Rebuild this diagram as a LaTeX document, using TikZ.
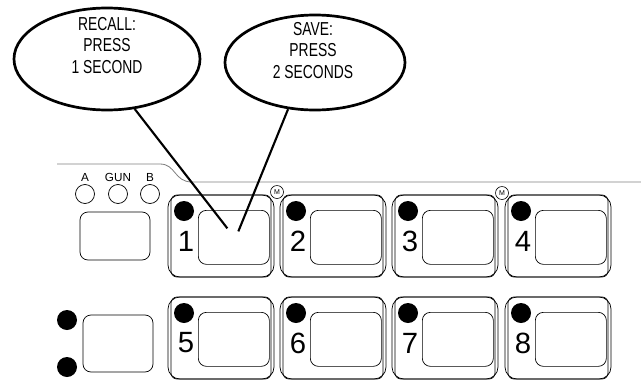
\documentclass[tikz,border=0pt]{standalone}
\usepackage{fontspec}
\setmainfont{Liberation Sans}
\newfontfamily\condfont[FakeStretch=0.74]{Liberation Sans}
\usetikzlibrary{shapes.geometric, calc}

\begin{document}
\begin{tikzpicture}[x=0.03cm, y=-0.03cm,
  callout/.style={draw, ellipse, line width=2.3pt, inner sep=0pt},
  calltext/.style={font=\condfont\fontsize{16}{18.6}\selectfont, align=center},
  pointer/.style={line width=1.8pt},
  bezel/.style={draw, line width=0.6pt, rounded corners=0.36cm},
  keycap/.style={draw, line width=0.6pt, rounded corners=0.24cm, inner sep=0pt},
  led/.style={circle, fill=black, minimum size=0.6cm, inner sep=0pt},
  jack/.style={circle, draw, line width=0.6pt, minimum size=0.57cm, inner sep=0pt},
  mbadge/.style={circle, draw, line width=0.5pt, minimum size=0.39cm, inner sep=0pt,
                 font=\fontsize{6}{6}\selectfont},
  digit/.style={font=\fontsize{25}{25}\selectfont, inner sep=0pt}]

  \useasboundingbox (0,0) rectangle (641,387);

  % Panel edge
  \draw[gray, line width=0.7pt] (57,164) -- (160,164)
    .. controls (176,164) and (174,182) .. (192,182) -- (641,182);

  % Gun selector
  \foreach \t/\x in {A/85, GUN/118, B/150} {
    \node[jack] (jack\t) at (\x,194) {};
    \node[font=\fontsize{10}{10}\selectfont] (lbl\t) at (\x,177) {\t};
  }
  \node[keycap, minimum width=2.1cm, minimum height=1.44cm] (selA) at (115,236) {};
  \node[keycap, minimum width=2.1cm, minimum height=1.71cm] (selB) at (118,343.5) {};
  \node[led] (ledup) at (67,320) {};
  \node[led] (leddown) at (67,367) {};

  % Memory buttons
  \foreach \n/\x/\y in {1/168/195, 2/280/195, 3/392/195, 4/505/195,
                        5/168/297, 6/280/297, 7/392/297, 8/505/297} {
    \draw[bezel] (\x,\y) rectangle ++(106,82);
    \draw[bezel, rounded corners=0.18cm] (\x+3,\y) rectangle ++(100,82);
    \node[keycap, anchor=north west, minimum width=2.13cm, minimum height=1.62cm]
      (btn\n) at (\x+30,\y+15) {};
    \node[led] (led\n) at (\x+16,\y+16) {};
    \node[digit] (num\n) at (\x+18,\y+46) {\n};
  }
  \node[mbadge] (mleft) at (277,192) {M};
  \node[mbadge] (mright) at (502,193) {M};

  % Callouts
  \node[callout, minimum width=5.58cm, minimum height=3.06cm] (recall) at (107,59) {};
  \node[calltext] (recalltxt) at (107,45.5) {RECALL:\\PRESS\\1 SECOND};
  \node[callout, minimum width=5.4cm, minimum height=2.85cm] (save) at (315,62.5) {};
  \node[calltext] (savetxt) at (313,50.5) {SAVE:\\PRESS\\2 SECONDS};

  \coordinate (tipr) at ($(btn1.center)+(-6.5,-9)$);
  \coordinate (tips) at ($(btn1.center)+(4.5,-6)$);
  \draw[pointer] (recall.-61) -- (tipr);
  \draw[pointer] (save.-120) -- (tips);

\end{tikzpicture}
\end{document}
